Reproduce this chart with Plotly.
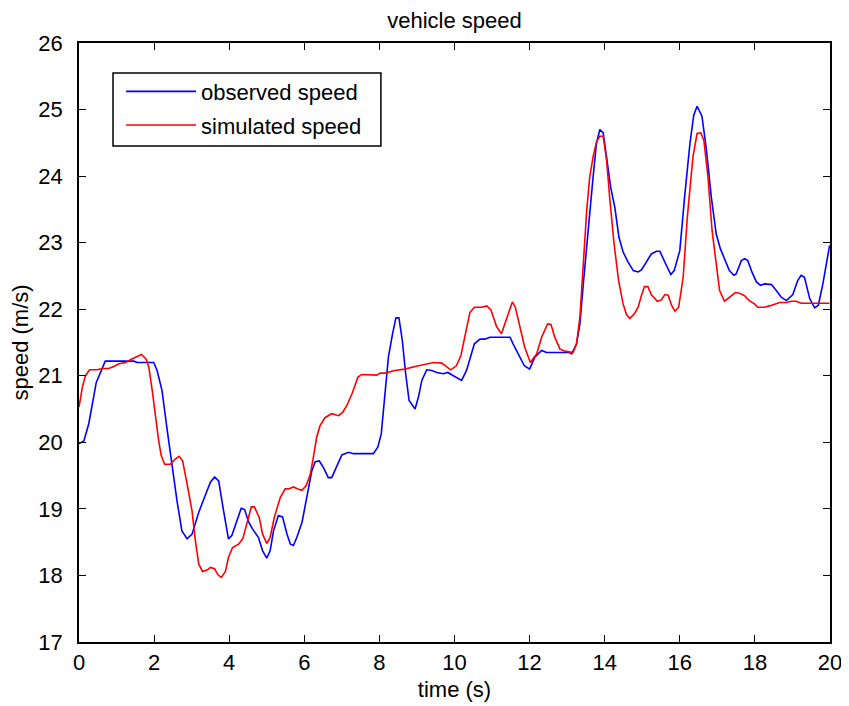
import plotly.graph_objects as go

t_obs = [0, 0.13, 0.26, 0.46, 0.70, 1.46, 1.55, 1.99, 2.08, 2.21, 2.35, 2.48, 2.61, 2.74, 2.88, 3.01, 3.19, 3.36, 3.5, 3.61,
         3.72, 3.85, 3.98, 4.07, 4.2, 4.32, 4.41, 4.52, 4.62, 4.78, 4.89, 5.0, 5.09, 5.18, 5.31, 5.42, 5.54, 5.63, 5.71, 5.8,
         5.94, 6.07, 6.2, 6.29, 6.4, 6.51, 6.64, 6.73, 6.87, 7.0, 7.18, 7.31, 7.84, 7.96, 8.05, 8.11, 8.24, 8.35, 8.44, 8.52,
         8.61, 8.7, 8.79, 8.95, 9.04, 9.13, 9.26, 9.39, 9.53, 9.7, 9.82, 9.97, 10.19, 10.32, 10.53, 10.68, 10.81, 10.94, 11.48, 11.56,
         11.74, 11.86, 12.0, 12.14, 12.32, 12.45, 13.05, 13.12, 13.25, 13.34, 13.43, 13.56, 13.69, 13.78, 13.87, 13.96, 14.04, 14.16, 14.27, 14.38,
         14.49, 14.62, 14.76, 14.89, 14.98, 15.11, 15.24, 15.38, 15.47, 15.6, 15.76, 15.85, 16.0, 16.13, 16.27, 16.37, 16.46, 16.59, 16.71, 16.84,
         16.97, 17.08, 17.19, 17.32, 17.44, 17.5, 17.64, 17.73, 17.81, 17.92, 18.04, 18.15, 18.26, 18.44, 18.57, 18.7, 18.84, 19.01, 19.14, 19.23,
         19.32, 19.46, 19.59, 19.69, 19.81, 19.99]
v_obs = [19.98, 20.02, 20.28, 20.9, 21.22, 21.22, 21.2, 21.2, 21.08, 20.78, 20.18, 19.62, 19.12, 18.67, 18.55, 18.62, 18.95, 19.2, 19.4, 19.48,
         19.42, 18.97, 18.55, 18.6, 18.82, 19.01, 18.99, 18.8, 18.7, 18.57, 18.37, 18.26, 18.37, 18.67, 18.9, 18.88, 18.62, 18.47, 18.45, 18.57,
         18.8, 19.17, 19.57, 19.71, 19.72, 19.62, 19.47, 19.47, 19.65, 19.81, 19.85, 19.83, 19.83, 19.93, 20.13, 20.53, 21.28, 21.63, 21.87, 21.87,
         21.53, 21.03, 20.63, 20.5, 20.68, 20.93, 21.09, 21.08, 21.05, 21.03, 21.05, 21.0, 20.93, 21.08, 21.48, 21.55, 21.55, 21.58, 21.58, 21.48,
         21.28, 21.15, 21.1, 21.28, 21.38, 21.35, 21.35, 21.33, 21.48, 21.78, 22.38, 23.23, 23.98, 24.49, 24.7, 24.65, 24.34, 23.83, 23.53, 23.08,
         22.86, 22.71, 22.58, 22.56, 22.59, 22.71, 22.83, 22.87, 22.87, 22.71, 22.52, 22.58, 22.88, 23.7, 24.49, 24.91, 25.05, 24.9, 24.39, 23.68,
         23.13, 22.91, 22.76, 22.58, 22.51, 22.53, 22.73, 22.76, 22.73, 22.56, 22.41, 22.36, 22.38, 22.37, 22.28, 22.18, 22.13, 22.22, 22.43, 22.51,
         22.48, 22.16, 22.02, 22.06, 22.38, 22.96]

t_sim = [0, 0.09, 0.17, 0.28, 0.48, 0.62, 0.79, 0.93, 1.06, 1.24, 1.37, 1.55, 1.66, 1.79, 1.86, 1.95, 2.03, 2.12, 2.19, 2.28,
         2.43, 2.57, 2.67, 2.76, 2.88, 3.01, 3.1, 3.19, 3.29, 3.41, 3.5, 3.61, 3.7, 3.79, 3.9, 3.98, 4.09, 4.25, 4.36, 4.47,
         4.59, 4.67, 4.8, 4.89, 5.0, 5.09, 5.2, 5.36, 5.49, 5.58, 5.71, 5.83, 5.94, 6.05, 6.16, 6.24, 6.33, 6.42, 6.55, 6.73,
         6.91, 7.02, 7.13, 7.27, 7.43, 7.53, 7.93, 8.02, 8.15, 8.41, 8.68, 8.95, 9.17, 9.44, 9.66, 9.79, 9.9, 10.05, 10.17, 10.29,
         10.41, 10.53, 10.72, 10.86, 10.97, 11.12, 11.25, 11.39, 11.54, 11.62, 11.74, 11.87, 12.02, 12.19, 12.32, 12.48, 12.57, 12.67, 12.81, 12.94,
         13.16, 13.25, 13.34, 13.43, 13.52, 13.6, 13.69, 13.78, 13.87, 13.96, 14.05, 14.14, 14.25, 14.37, 14.49, 14.58, 14.67, 14.8, 14.89, 14.98,
         15.06, 15.15, 15.24, 15.4, 15.51, 15.6, 15.69, 15.78, 15.87, 15.97, 16.09, 16.2, 16.35, 16.46, 16.56, 16.64, 16.75, 16.86, 16.97, 17.06,
         17.19, 17.32, 17.48, 17.59, 17.73, 17.85, 17.99, 18.08, 18.26, 18.39, 18.52, 18.66, 18.84, 18.97, 19.1, 19.23, 19.99]
v_sim = [20.53, 20.83, 21.0, 21.09, 21.09, 21.11, 21.11, 21.14, 21.18, 21.2, 21.24, 21.29, 21.32, 21.25, 21.13, 20.78, 20.38, 20.03, 19.8, 19.67,
         19.67, 19.75, 19.79, 19.72, 19.37, 18.97, 18.52, 18.17, 18.06, 18.08, 18.12, 18.1, 18.01, 17.97, 18.06, 18.27, 18.42, 18.47, 18.55, 18.77,
         19.03, 19.03, 18.87, 18.62, 18.48, 18.57, 18.87, 19.17, 19.3, 19.3, 19.33, 19.3, 19.28, 19.35, 19.52, 19.77, 20.08, 20.25, 20.37, 20.43,
         20.4, 20.45, 20.55, 20.73, 20.98, 21.02, 21.01, 21.04, 21.04, 21.08, 21.1, 21.14, 21.17, 21.2, 21.19, 21.14, 21.09, 21.15, 21.3, 21.63,
         21.95, 22.03, 22.03, 22.05, 21.99, 21.74, 21.63, 21.86, 22.11, 22.03, 21.73, 21.43, 21.2, 21.33, 21.58, 21.78, 21.77, 21.58, 21.4, 21.37,
         21.35, 21.48, 21.88, 22.68, 23.48, 23.98, 24.29, 24.51, 24.6, 24.6, 24.24, 23.63, 22.98, 22.43, 22.08, 21.92, 21.86, 21.94, 22.03, 22.21,
         22.34, 22.34, 22.22, 22.12, 22.14, 22.22, 22.21, 22.06, 21.97, 22.03, 22.48, 23.38, 24.29, 24.64, 24.65, 24.54, 23.99, 23.18, 22.63, 22.28,
         22.12, 22.18, 22.25, 22.24, 22.2, 22.13, 22.08, 22.03, 22.03, 22.05, 22.07, 22.1, 22.1, 22.12, 22.12, 22.09, 22.09]

x_ticks = [0, 2, 4, 6, 8, 10, 12, 14, 16, 18, 20]
y_ticks = [17, 18, 19, 20, 21, 22, 23, 24, 25, 26]

FONT = "Liberation Sans, Arial, sans-serif"
FS = 22

fig = go.Figure()
fig.add_trace(go.Scatter(x=t_obs, y=v_obs, mode="lines", name="observed speed",
                         line=dict(color="#0000ff", width=1.6), legendgroup="a"))
fig.add_trace(go.Scatter(x=t_sim, y=v_sim, mode="lines", name="simulated speed",
                         line=dict(color="#ff0000", width=1.6), legendgroup="b"))

axis_common = dict(showline=True, linecolor="black", linewidth=1.6, mirror="ticks",
                   ticks="inside", ticklen=7, tickwidth=1.3, tickcolor="black",
                   showgrid=False, zeroline=False, automargin=False,
                   tickfont=dict(family=FONT, size=FS, color="black"))

# page body has an 8px margin, so the figure is placed at (8, 8)
fig.update_layout(
    width=841, height=698,
    margin=dict(l=71, r=19, t=35, b=64),
    paper_bgcolor="white", plot_bgcolor="white",
    font=dict(family=FONT, size=FS, color="black"),
    title=dict(text="vehicle speed", xref="paper", x=0.5, xanchor="center",
               yref="container", y=1 - 12 / 698, yanchor="middle",
               font=dict(family=FONT, size=FS, color="black")),
    xaxis=dict(range=[0, 20], tickvals=x_ticks, ticktext=[str(v) for v in x_ticks],
               title=dict(text="time (s)", font=dict(family=FONT, size=FS), standoff=7), **axis_common),
    yaxis=dict(range=[17, 26], tickvals=y_ticks, ticktext=[str(v) for v in y_ticks],
               ticklabelstandoff=10,
               title=dict(text="speed (m/s)", font=dict(family=FONT, size=FS), standoff=6), **axis_common),
    legend=dict(x=0.056, y=0.954, xanchor="left", yanchor="top",
                bgcolor="rgba(0,0,0,0)", borderwidth=0,
                font=dict(family=FONT, size=FS, color="black"),
                tracegroupgap=2, itemwidth=70),
    showlegend=True,
    shapes=[dict(type="rect", xref="paper", yref="paper", x0=0.0453, x1=0.402, y0=0.828, y1=0.950,
                 line=dict(color="black", width=1.5), fillcolor="white", layer="above")],
)

fig.write_html("out.html")
